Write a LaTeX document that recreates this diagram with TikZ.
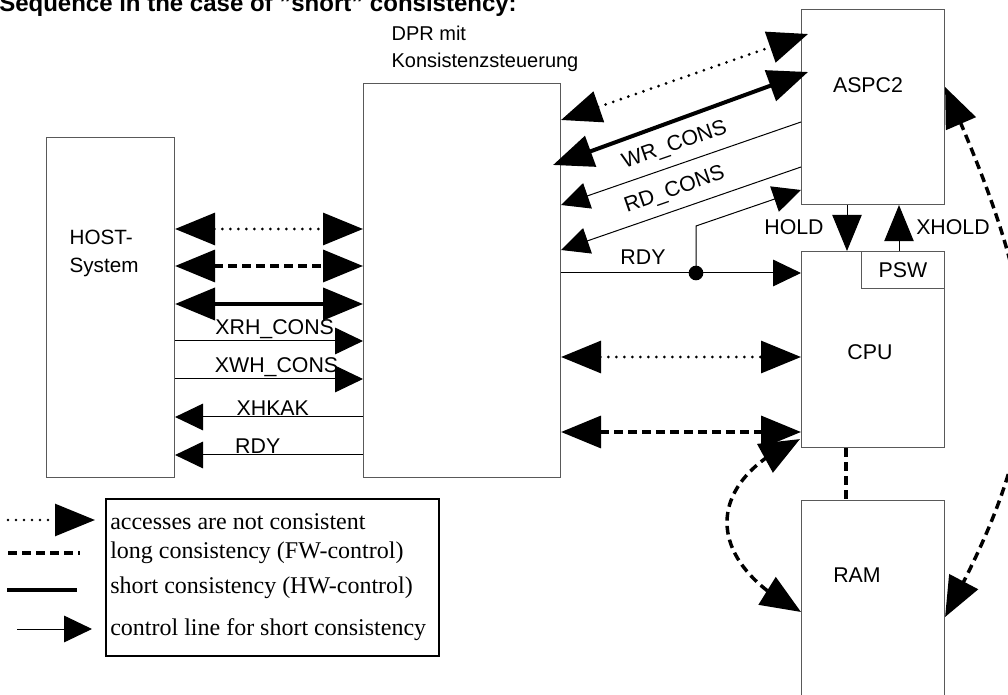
\documentclass[tikz,border=0pt]{standalone}
\usepackage{fontspec}
\setmainfont{Liberation Serif}
\setsansfont{Liberation Sans}
\usetikzlibrary{arrows.meta,calc,bending}
\definecolor{boxgray}{gray}{0.35}
\tikzset{
 box/.style={draw=boxgray, line width=0.8pt, inner sep=0pt, anchor=north west},
 lbl/.style={font=\sffamily\fontsize{16}{19}\selectfont, inner sep=1pt},
 legtxt/.style={font=\fontsize{18}{20}\selectfont, inner sep=0pt, anchor=west},
 bigtip/.tip={Triangle[length=30pt,width=24pt]},
 smalltip/.tip={Triangle[length=21pt,width=20pt]},
 midtip/.tip={Triangle[length=27pt,width=22pt]},
 thinl/.style={line width=0.75pt},
 dotl/.style={line width=2.3pt, dash pattern=on 0pt off 6pt, line cap=round},
 dashl/.style={line width=2.6pt, dash pattern=on 6.5pt off 4pt},
 solidl/.style={line width=3pt},
}
\begin{document}
\begin{tikzpicture}[x=0.75pt,y=-0.75pt]
\useasboundingbox (0,0) rectangle (1008,695);

% title (cut at top)
\node[anchor=base west, inner sep=0, font=\sffamily\bfseries\fontsize{18}{20}\selectfont] (title) at (-1,12) {Sequence in the case of {\char34}short{\char34} consistency:};

% boxes
\node[box, minimum width=96pt, minimum height=255pt] (host) at (46,137) {};
\node[box, minimum width=147.75pt, minimum height=295.5pt] (dpr) at (363,83) {};
\node[box, minimum width=107.25pt, minimum height=146.25pt] (aspc) at (801,9) {};
\node[box, minimum width=107.25pt, minimum height=147pt] (cpu) at (801,251) {};
\node[box, minimum width=62.25pt, minimum height=27.75pt] (psw) at (861,251) {};
\node[box, minimum width=107.25pt, minimum height=170pt] (ram) at (801,500) {};

% box labels
\node[lbl, anchor=west, align=left, font=\sffamily\fontsize{15.5}{21}\selectfont] (hosttxt) at (68,253) {HOST-\\System};
\node[lbl, anchor=west, align=left, font=\sffamily\fontsize{15}{20}\selectfont] (dprtxt) at (390,49) {DPR mit\\Konsistenzsteuerung};
\node[lbl] (aspctxt) at (868,85) {ASPC2};
\node[lbl] (cputxt) at (870,352) {CPU};
\node[lbl] (pswtxt) at (psw.center) {PSW};
\node[lbl] (ramtxt) at (857,575) {RAM};

% host <-> DPR
\draw[dotl, bigtip-bigtip] (host.east |- 0,229) -- (dpr.west |- 0,229);
\draw[dashl, bigtip-bigtip] (host.east |- 0,266) -- (dpr.west |- 0,266);
\draw[solidl, bigtip-bigtip] (host.east |- 0,304) -- (dpr.west |- 0,304);
\draw[thinl, -smalltip] (host.east |- 0,341) -- node[lbl, above, pos=0.53] (xrh) {XRH\_CONS} (dpr.west |- 0,341);
\draw[thinl, -smalltip] (host.east |- 0,379) -- node[lbl, above, pos=0.54] (xwh) {XWH\_CONS} (dpr.west |- 0,379);
\draw[thinl, smalltip-] (host.east |- 0,417) -- node[lbl, above, pos=0.52] (xhkak) {XHKAK} (dpr.west |- 0,417);
\draw[thinl, smalltip-] (host.east |- 0,455) -- node[lbl, above, pos=0.44] (rdy1) {RDY} (dpr.west |- 0,455);

% DPR <-> ASPC2
\draw[dotl, bigtip-bigtip] (dpr.east |- 0,120) -- ($(aspc.west |- 0,34)+(7,0)$);
\draw[solidl, bigtip-bigtip] ($(dpr.east |- 0,165)+(-8,0)$) -- ($(aspc.west |- 0,72)+(7,0)$);
\draw[thinl, smalltip-] (dpr.east |- 0,205) -- node[lbl, above=6pt, sloped] (wr) {WR\_CONS} (aspc.west |- 0,122);
\draw[thinl, smalltip-] (dpr.east |- 0,250) -- node[lbl, above=6pt, sloped] (rd) {RD\_CONS} (aspc.west |- 0,167);

% RDY to CPU and ASPC2
\coordinate (dotc) at (696,273);
\draw[thinl, -smalltip] (dpr.east |- dotc) -- (cpu.west |- dotc);
\draw[thinl, -smalltip] (dotc) -- (dotc |- 0,226) -- (aspc.west |- 0,190);
\node[circle, fill, inner sep=0, minimum size=11pt] (dot) at (dotc) {};
\node[lbl] (rdy2) at (643,257) {RDY};

% HOLD / XHOLD
\draw[thinl, -midtip] (aspc.south -| 847,0) -- (cpu.north -| 847,0);
\node[lbl] (hold) at (794,227) {HOLD};
\draw[thinl, -midtip] (psw.north -| 899,0) -- (aspc.south -| 899,0);
\node[lbl] (xhold) at (953,227) {XHOLD};

% DPR <-> CPU
\draw[dotl, bigtip-bigtip] (dpr.east |- 0,357) -- (cpu.west |- 0,357);
\draw[dashl, bigtip-bigtip] (dpr.east |- 0,432) -- (cpu.west |- 0,432);

% CPU - RAM
\draw[dashl] (cpu.south -| 846,0) -- (ram.north -| 846,0);
\draw[dashl, bigtip-bigtip] ($(cpu.south west)+(-1,-9)$) .. controls (705,480) and (700,560) .. (ram.west |- 0,612);
\draw[dashl, bigtip-bigtip] (aspc.east |- 0,87) .. controls (1046,316) and (1057,412) .. (ram.east |- 0,617);

% legend
\node[draw, line width=1.5pt, inner sep=0, anchor=north west, minimum width=250pt, minimum height=117.75pt] (legend) at (105,498) {};
\node[legtxt] (l1) at (110,522) {accesses are not consistent};
\node[legtxt] (l2) at (110,553) {long consistency (FW-control)};
\node[legtxt] (l3) at (110,588) {short consistency (HW-control)};
\node[legtxt] (l4) at (110,630) {control line for short consistency};
\coordinate (s1a) at (8,520); \coordinate (s1b) at (95,520);
\coordinate (s2a) at (8,553); \coordinate (s2b) at (80,553);
\coordinate (s3a) at (7,590); \coordinate (s3b) at (77,590);
\coordinate (s4a) at (17,629); \coordinate (s4b) at (92,629);
\draw[dotl, line width=2pt, -bigtip] (s1a) -- (s1b);
\draw[dashl] (s2a) -- (s2b);
\draw[solidl] (s3a) -- (s3b);
\draw[thinl, -smalltip] (s4a) -- (s4b);
\end{tikzpicture}
\end{document}
